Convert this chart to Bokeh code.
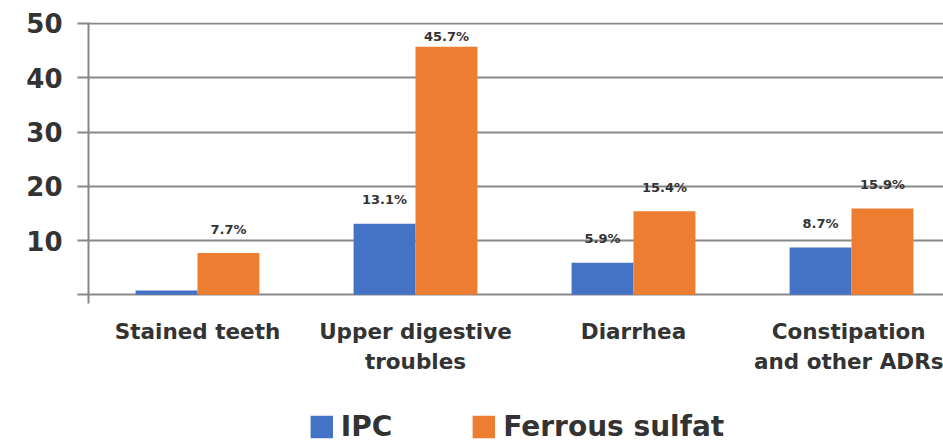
import numpy as np
from bokeh.plotting import figure
from bokeh.layouts import column
from bokeh.models import Range1d, FixedTicker, Legend, LegendItem, ColumnDataSource
from bokeh.core.properties import value
from bokeh.embed import file_html
from bokeh.resources import INLINE

categories = ["Stained teeth", "Upper digestive\ntroubles", "Diarrhea", "Constipation\nand other ADRs"]
series_names = ["IPC", "Ferrous sulfat"]
ipc = [0.8, 13.1, 5.9, 8.7]
ferrous = [7.7, 45.7, 15.4, 15.9]
ipc_labels = ["", "13.1%", "5.9%", "8.7%"]
ferrous_labels = ["7.7%", "45.7%", "15.4%", "15.9%"]
y_ticks = [0, 10, 20, 30, 40, 50]

BLUE = "#4472C4"
ORANGE = "#ED7D31"
GRID = "#888888"
TEXT = "#333333"
FONT = "DejaVu Sans"

xc = np.arange(len(categories)) + 0.5
bw = 0.284

p = figure(width=943, height=404, output_backend="svg", toolbar_location=None,
           x_range=Range1d(0, 3.922), y_range=Range1d(-1.6, 50.18),
           min_border_left=88, min_border_right=0, min_border_top=22, min_border_bottom=101)
p.outline_line_color = None
p.background_fill_color = "white"

src_i = ColumnDataSource(dict(x=xc - bw / 2, top=ipc, lab=ipc_labels,
                              off=np.where(np.array(ipc) > 44, -10, -24)))
src_f = ColumnDataSource(dict(x=xc + bw / 2, top=ferrous, lab=ferrous_labels,
                              off=np.where(np.array(ferrous) > 44, -10, -24)))

p.vbar(x="x", top="top", bottom=0, width=bw, source=src_i, fill_color=BLUE, line_color=None)
p.vbar(x="x", top="top", bottom=0, width=bw, source=src_f, fill_color=ORANGE, line_color=None)

for src in (src_i, src_f):
    p.text(x="x", y="top", text="lab", source=src, y_offset="off", text_align="center",
           text_baseline="alphabetic", text_font=value(FONT), text_font_style="bold",
           text_font_size="13px", text_color=TEXT)

# y axis
p.yaxis.ticker = FixedTicker(ticks=y_ticks)
p.yaxis.major_label_overrides = {0: ""}
p.yaxis.axis_line_color = GRID
p.yaxis.axis_line_width = 2
p.yaxis.major_tick_line_color = GRID
p.yaxis.major_tick_line_width = 2
p.yaxis.major_tick_out = 11
p.yaxis.major_tick_in = 0
p.yaxis.minor_tick_line_color = None
p.yaxis.major_label_standoff = 15
p.yaxis.major_label_text_font = FONT
p.yaxis.major_label_text_font_style = "bold"
p.yaxis.major_label_text_font_size = "26px"
p.yaxis.major_label_text_color = TEXT

# x axis
p.xaxis.ticker = FixedTicker(ticks=list(xc))
p.xaxis.major_label_overrides = {float(x): c for x, c in zip(xc, categories)}
p.xaxis.axis_line_color = None
p.xaxis.major_tick_line_color = None
p.xaxis.minor_tick_line_color = None
p.xaxis.major_tick_out = 0
p.xaxis.major_tick_in = 0
p.xaxis.major_label_standoff = 15
p.xaxis.major_label_text_font = FONT
p.xaxis.major_label_text_font_style = "bold"
p.xaxis.major_label_text_font_size = "21.5px"
p.xaxis.major_label_text_color = TEXT

p.xgrid.grid_line_color = None
p.ygrid.ticker = FixedTicker(ticks=y_ticks)
p.ygrid.grid_line_color = GRID
p.ygrid.grid_line_width = 2

# legend strip below the chart
lg = figure(width=943, height=44, output_backend="svg", toolbar_location=None,
            x_range=Range1d(0, 1), y_range=Range1d(0, 1),
            min_border_left=88, min_border_right=0, min_border_top=0, min_border_bottom=0)
lg.axis.visible = False
lg.grid.grid_line_color = None
lg.outline_line_color = None
offview = ColumnDataSource(dict(x=[-5], top=[-5]))
l1 = lg.vbar(x="x", top="top", bottom=-6, width=0.1, source=offview, fill_color=BLUE, line_color=None)
l2 = lg.vbar(x="x", top="top", bottom=-6, width=0.1, source=offview, fill_color=ORANGE, line_color=None)
legend = Legend(items=[LegendItem(label=series_names[0], renderers=[l1]),
                       LegendItem(label=series_names[1], renderers=[l2])],
                orientation="horizontal", location="center",
                glyph_width=28, glyph_height=28, label_standoff=6, spacing=77,
                label_text_font=FONT, label_text_font_style="bold",
                label_text_font_size="28px", label_text_color=TEXT,
                border_line_alpha=0, background_fill_alpha=0, padding=0, margin=0)
lg.add_layout(legend, "center")

layout = column(p, lg, spacing=0)
open("out.html", "w").write(file_html(layout, INLINE))
